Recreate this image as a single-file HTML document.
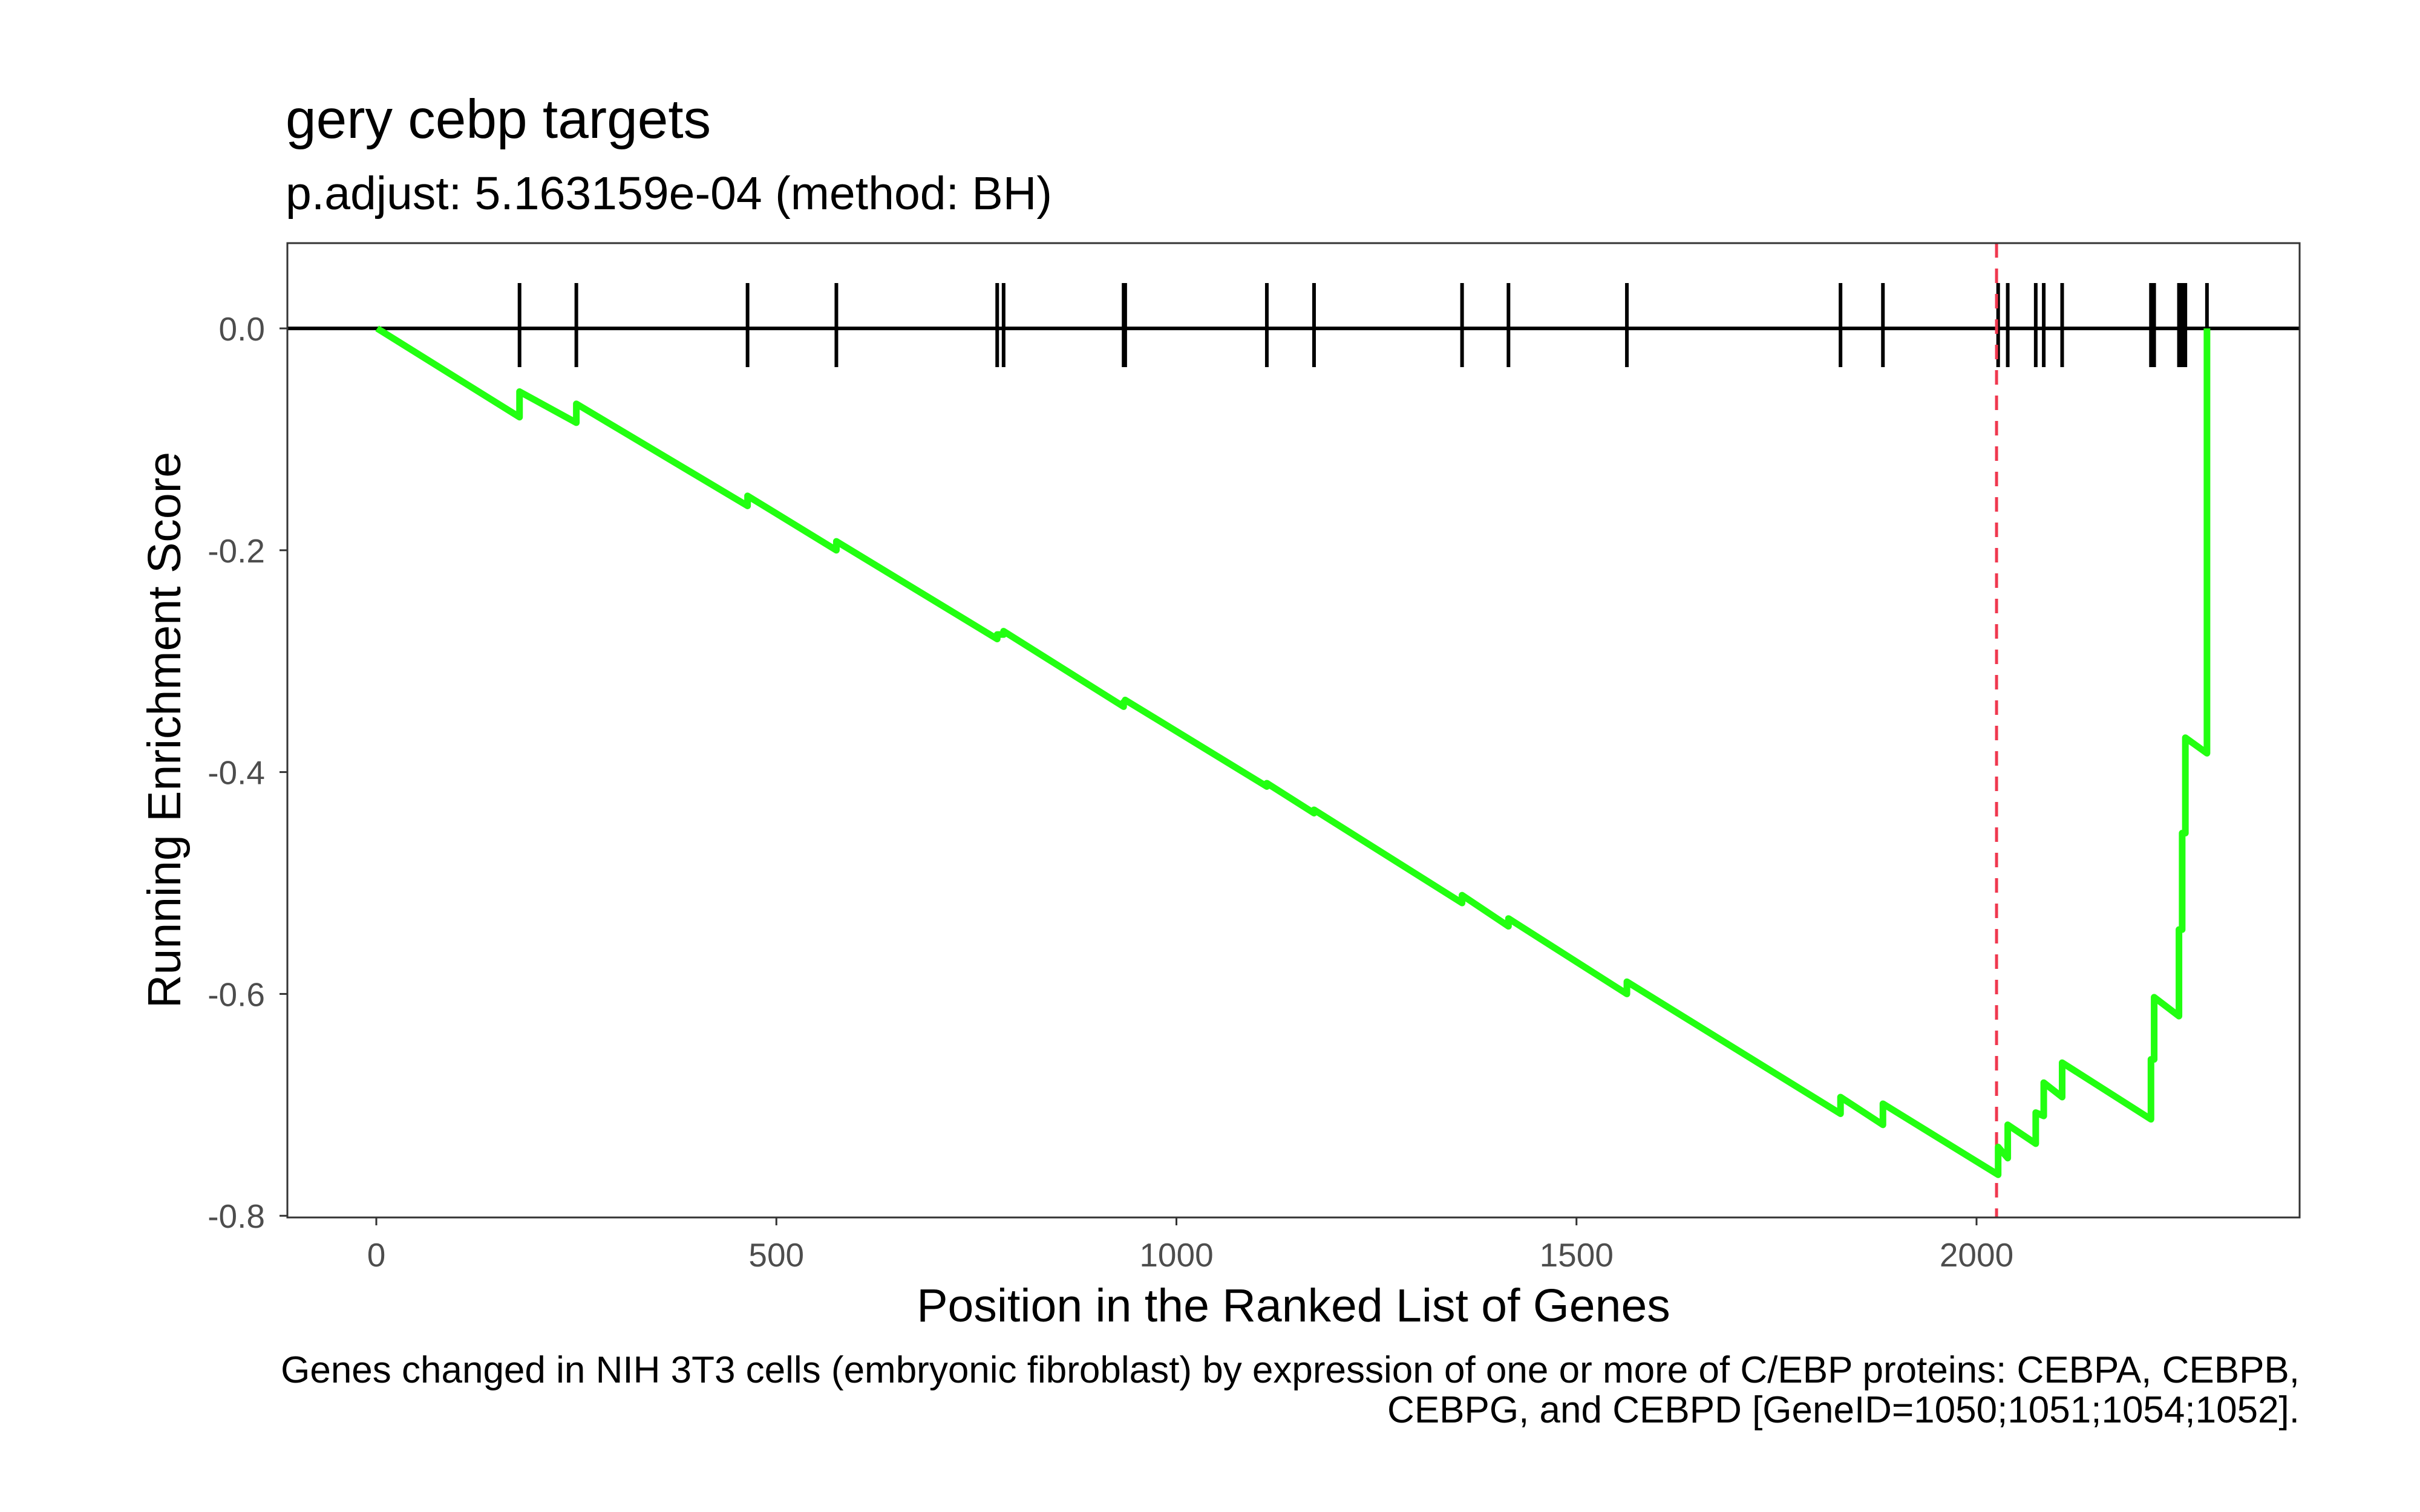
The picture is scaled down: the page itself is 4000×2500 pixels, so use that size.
<!DOCTYPE html>
<html><head><meta charset="utf-8"><style>
html,body{margin:0;padding:0;background:#fff;}
svg{display:block;font-family:"Liberation Sans",sans-serif;}
</style></head><body>
<svg id="chart" width="4000" height="2500" viewBox="0 0 4000 2500">
<rect x="0" y="0" width="4000" height="2500" fill="#fff"/>
<text x="472" y="228" font-size="91" fill="#000">gery cebp targets</text>
<text x="472" y="346" font-size="77" fill="#000">p.adjust: 5.163159e-04 (method: BH)</text>
<g id="yaxis"></g>
<g id="xaxis"></g>
<g id="marks"></g>
<rect x="475" y="402" width="3326" height="1611" fill="none" stroke="#333" stroke-width="3"/>
<text x="2138" y="2185" font-size="77" text-anchor="middle" fill="#000">Position in the Ranked List of Genes</text>
<text transform="translate(298,1207) rotate(-90)" font-size="77" text-anchor="middle" fill="#000">Running Enrichment Score</text>
<text x="3801" y="2286" font-size="62" text-anchor="end" fill="#000">Genes changed in NIH 3T3 cells (embryonic fibroblast) by expression of one or more of C/EBP proteins: CEBPA, CEBPB,</text>
<text x="3801" y="2352" font-size="62" text-anchor="end" fill="#000">CEBPG, and CEBPD [GeneID=1050;1051;1054;1052].</text>
</svg>
<script>
const hitPositions = [179,250,464,575,776,784,934,936,1113,1172,1357,1415,1563,1830,1883,2027,2039,2074,2084,2107,2218,2222,2253,2257,2261,2288];
const esBefore = [-0.080,-0.085,-0.160,-0.200,-0.280,-0.276,-0.341,-0.337,-0.413,-0.437,-0.518,-0.539,-0.600,-0.708,-0.718,-0.763,-0.748,-0.735,-0.710,-0.693,-0.713,-0.659,-0.620,-0.542,-0.455,-0.383];
const esAfter = [-0.057,-0.068,-0.151,-0.192,-0.276,-0.273,-0.337,-0.335,-0.410,-0.434,-0.511,-0.532,-0.589,-0.693,-0.699,-0.738,-0.718,-0.707,-0.680,-0.662,-0.659,-0.603,-0.542,-0.455,-0.369,0.0];
const peakPosition = [2025];
const xTicks = [0,500,1000,1500,2000];
const xTickLabels = ["0","500","1000","1500","2000"];
const yTicks = [0,-0.2,-0.4,-0.6,-0.8];
const yTickLabels = ["0.0","-0.2","-0.4","-0.6","-0.8"];

const NS = "http://www.w3.org/2000/svg";
const xs = g => 622 + g * 1.3225;
const ys = v => 543 - v * 1834;
function mk(tag, attrs, parent){const e=document.createElementNS(NS,tag);for(const k in attrs)e.setAttribute(k,attrs[k]);parent.appendChild(e);return e;}

const yaxis=document.getElementById('yaxis');
yTicks.forEach((v,i)=>{
  const t=mk('line',{x1:462,x2:475,y1:ys(v),y2:ys(v),stroke:'#333','stroke-width':3},yaxis);
  
  
  const l=mk('text',{x:438,y:ys(v)+20,'font-size':55,'text-anchor':'end',fill:'#4d4d4d'},yaxis);
  l.textContent=yTickLabels[i];
  
  
});
const xaxis=document.getElementById('xaxis');
xTicks.forEach((g,i)=>{
  const t=mk('line',{x1:xs(g),x2:xs(g),y1:2013,y2:2026,stroke:'#333','stroke-width':3},xaxis);
  
  
  const l=mk('text',{x:xs(g),y:2094,'font-size':55,'text-anchor':'middle',fill:'#4d4d4d'},xaxis);
  l.textContent=xTickLabels[i];
  
  
});

const marks=document.getElementById('marks');
const zl=mk('line',{x1:475,x2:3801,y1:ys(0),y2:ys(0),stroke:'#000','stroke-width':6},marks);


hitPositions.forEach(g=>{
  const h=mk('line',{x1:xs(g),x2:xs(g),y1:468,y2:607,stroke:'#000','stroke-width':6},marks);
  
  
});
peakPosition.forEach(g=>{
  const r=mk('line',{x1:xs(g),x2:xs(g),y1:402,y2:2013,stroke:'#f0384f','stroke-width':5,'stroke-dasharray':'24,18'},marks);
  
  
});
let d='M'+xs(1)+','+ys(0);
hitPositions.forEach((g,i)=>{d+=' L'+xs(g)+','+ys(esBefore[i])+' L'+xs(g)+','+ys(esAfter[i]);});
const p=mk('path',{d:d,fill:'none',stroke:'#22ff11','stroke-width':11,'stroke-linejoin':'round'},marks);


</script>
</body></html>
